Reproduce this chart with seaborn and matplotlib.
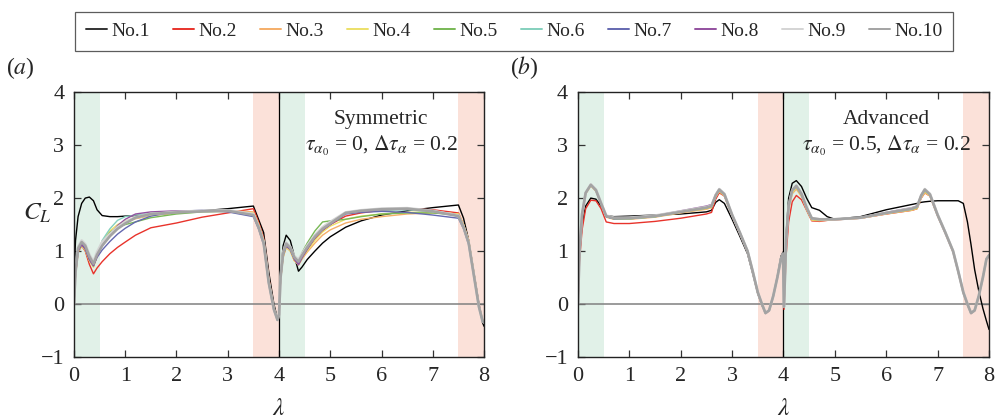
import numpy as np
import pandas as pd
import seaborn as sns
import matplotlib
matplotlib.use("Agg")
import matplotlib.pyplot as plt

# ---------------- data ----------------
labels = ["No.1", "No.2", "No.3", "No.4", "No.5", "No.6", "No.7", "No.8", "No.9", "No.10"]
colors = ["#000000", "#e8332b", "#f5ae68", "#ece068", "#78b855", "#84d0bd",
          "#6468b0", "#93509f", "#d4d4d4", "#a3a3a3"]
legend_colors = ["#333333", "#e8332b", "#f5ae68", "#ece068", "#78b855", "#84d0bd",
                 "#6468b0", "#93509f", "#d4d4d4", "#a3a3a3"]

# panel (a): symmetric
xa = [0, 0.03, 0.08, 0.15, 0.22, 0.3, 0.38, 0.45, 0.55, 0.7,
      0.85, 1.0, 1.2, 1.5, 2.0, 2.5, 3.0, 3.5, 3.6, 3.7,
      3.8, 3.9, 3.97, 4.0, 4.03, 4.08, 4.14, 4.22, 4.3, 4.38,
      4.45, 4.55, 4.7, 4.85, 5.0, 5.3, 5.6, 6.0, 6.5, 7.0,
      7.5, 7.6, 7.7, 7.8, 7.9, 7.97, 8.0]
a1 = [0.5, 1.2, 1.65, 1.9, 2.0, 2.02, 1.95, 1.78, 1.67, 1.65,
      1.65, 1.66, 1.67, 1.69, 1.72, 1.76, 1.80, 1.85, 1.6, 1.35,
      0.6, 0.0, -0.28, -0.25, 0.5, 1.1, 1.3, 1.2, 0.9, 0.62,
      0.7, 0.84, 1.0, 1.15, 1.27, 1.45, 1.57, 1.68, 1.76, 1.82,
      1.87, 1.62, 1.2, 0.6, 0.0, -0.35, -0.42]
a2 = [0.0, 0.55, 0.98, 1.1, 1.0, 0.75, 0.57, 0.68, 0.8, 0.95,
      1.07, 1.17, 1.3, 1.44, 1.53, 1.64, 1.72, 1.8, 1.55, 1.25,
      0.5, -0.1, -0.3, -0.2, 0.45, 0.9, 1.08, 1.02, 0.82, 0.75,
      0.88, 1.03, 1.23, 1.38, 1.5, 1.66, 1.72, 1.77, 1.8, 1.78,
      1.72, 1.5, 1.2, 0.6, 0.0, -0.3, -0.35]
a3 = [0.0, 0.55, 0.98, 1.1, 1.02, 0.82, 0.7, 0.9, 1.15, 1.35,
      1.47, 1.55, 1.61, 1.67, 1.72, 1.75, 1.76, 1.74, 1.52, 1.22,
      0.47, -0.07, -0.3, -0.2, 0.45, 0.88, 1.07, 1.0, 0.82, 0.74,
      0.85, 0.98, 1.15, 1.3, 1.4, 1.53, 1.6, 1.65, 1.7, 1.72,
      1.7, 1.5, 1.2, 0.6, -0.03, -0.3, -0.35]
a4 = [0.0, 0.56, 1.0, 1.1, 1.02, 0.82, 0.7, 0.9, 1.18, 1.38,
      1.5, 1.57, 1.62, 1.68, 1.73, 1.75, 1.75, 1.72, 1.5, 1.2,
      0.45, -0.08, -0.3, -0.2, 0.46, 0.9, 1.08, 1.0, 0.82, 0.74,
      0.86, 1.0, 1.2, 1.36, 1.47, 1.6, 1.66, 1.7, 1.73, 1.74,
      1.7, 1.5, 1.2, 0.6, -0.03, -0.3, -0.35]
a5 = [0.0, 0.57, 1.0, 1.12, 1.04, 0.84, 0.72, 0.92, 1.15, 1.35,
      1.45, 1.5, 1.55, 1.63, 1.7, 1.74, 1.75, 1.7, 1.48, 1.18,
      0.43, -0.1, -0.3, -0.2, 0.47, 0.92, 1.1, 1.03, 0.86, 0.8,
      0.97, 1.15, 1.38, 1.55, 1.57, 1.6, 1.65, 1.7, 1.72, 1.72,
      1.68, 1.48, 1.18, 0.57, -0.04, -0.31, -0.35]
a6 = [0.0, 0.58, 1.02, 1.13, 1.05, 0.85, 0.72, 0.92, 1.2, 1.42,
      1.58, 1.65, 1.68, 1.71, 1.74, 1.76, 1.75, 1.7, 1.47, 1.17,
      0.42, -0.1, -0.3, -0.2, 0.48, 0.93, 1.12, 1.04, 0.86, 0.78,
      0.92, 1.1, 1.3, 1.45, 1.55, 1.72, 1.75, 1.77, 1.78, 1.74,
      1.68, 1.47, 1.17, 0.56, -0.05, -0.32, -0.35]
a7 = [0.0, 0.58, 1.02, 1.13, 1.05, 0.85, 0.73, 0.88, 1.02, 1.18,
      1.32, 1.43, 1.55, 1.66, 1.75, 1.77, 1.74, 1.65, 1.42, 1.12,
      0.38, -0.12, -0.3, -0.2, 0.48, 0.93, 1.1, 1.03, 0.85, 0.77,
      0.9, 1.05, 1.25, 1.4, 1.5, 1.7, 1.73, 1.75, 1.73, 1.68,
      1.62, 1.42, 1.12, 0.53, -0.06, -0.33, -0.35]
a8 = [0.0, 0.57, 1.0, 1.12, 1.04, 0.84, 0.72, 0.9, 1.1, 1.3,
      1.48, 1.6, 1.7, 1.74, 1.76, 1.76, 1.75, 1.69, 1.46, 1.16,
      0.41, -0.1, -0.3, -0.2, 0.48, 0.92, 1.1, 1.03, 0.84, 0.74,
      0.87, 1.03, 1.25, 1.4, 1.5, 1.72, 1.75, 1.78, 1.8, 1.76,
      1.68, 1.47, 1.17, 0.56, -0.05, -0.32, -0.35]
a9 = [0.0, 0.62, 1.08, 1.2, 1.13, 0.93, 0.8, 0.98, 1.17, 1.32,
      1.45, 1.55, 1.64, 1.7, 1.74, 1.76, 1.77, 1.7, 1.47, 1.17,
      0.42, -0.1, -0.3, -0.2, 0.52, 0.98, 1.16, 1.08, 0.9, 0.84,
      0.95, 1.1, 1.3, 1.45, 1.55, 1.73, 1.77, 1.8, 1.81, 1.76,
      1.67, 1.46, 1.16, 0.56, -0.05, -0.32, -0.35]
a10 = [0.0, 0.6, 1.05, 1.17, 1.1, 0.9, 0.76, 0.93, 1.1, 1.28,
       1.42, 1.52, 1.63, 1.7, 1.73, 1.75, 1.76, 1.68, 1.45, 1.15,
       0.4, -0.1, -0.3, -0.2, 0.5, 0.95, 1.14, 1.06, 0.88, 0.8,
       0.92, 1.07, 1.27, 1.42, 1.52, 1.72, 1.76, 1.79, 1.8, 1.75,
       1.66, 1.45, 1.15, 0.55, -0.05, -0.32, -0.35]

# panel (b): advanced
xb = [0, 0.03, 0.08, 0.15, 0.25, 0.35, 0.45, 0.55, 0.7, 1.0,
      1.5, 2.0, 2.5, 2.6, 2.68, 2.75, 2.85, 3.0, 3.15, 3.3,
      3.4, 3.5, 3.58, 3.65, 3.72, 3.8, 3.88, 3.95, 3.99, 4.01,
      4.05, 4.1, 4.17, 4.25, 4.35, 4.45, 4.55, 4.7, 4.85, 5.0,
      5.5, 6.0, 6.5, 6.6, 6.68, 6.75, 6.85, 7.0, 7.15, 7.3,
      7.4, 7.5, 7.58, 7.65, 7.72, 7.8, 7.88, 7.95, 8.0]
b1 = [0.0, 0.9, 1.5, 1.85, 2.0, 1.98, 1.85, 1.67, 1.65, 1.66,
      1.68, 1.7, 1.74, 1.77, 1.92, 1.97, 1.9, 1.6, 1.28, 0.95,
      0.58, 0.2, -0.02, -0.17, -0.12, 0.15, 0.52, 0.9, 0.98, 0.0,
      1.3, 2.0, 2.28, 2.33, 2.22, 2.0, 1.82, 1.77, 1.65, 1.6,
      1.65, 1.78, 1.88, 1.9, 1.92, 1.93, 1.94, 1.95, 1.95, 1.95,
      1.95, 1.9, 1.55, 1.12, 0.65, 0.25, -0.08, -0.32, -0.48]
b2 = [0.0, 0.8, 1.4, 1.8, 1.96, 1.95, 1.8, 1.55, 1.52, 1.52,
      1.56, 1.62, 1.7, 1.73, 1.98, 2.1, 2.04, 1.66, 1.33, 0.98,
      0.6, 0.2, -0.02, -0.18, -0.13, 0.14, 0.5, 0.84, 0.94, -0.1,
      0.9, 1.55, 1.93, 2.05, 1.97, 1.77, 1.57, 1.56, 1.58, 1.59,
      1.62, 1.7, 1.77, 1.8, 2.0, 2.1, 2.04, 1.66, 1.33, 0.98,
      0.6, 0.2, -0.02, -0.18, -0.13, 0.14, 0.5, 0.84, 0.9]
b3 = [0.0, 0.98, 1.68, 2.08, 2.23, 2.13, 1.88, 1.64, 1.6, 1.6,
      1.64, 1.72, 1.79, 1.82, 2.02, 2.12, 2.04, 1.67, 1.34, 0.99,
      0.61, 0.21, -0.01, -0.17, -0.12, 0.15, 0.5, 0.85, 0.95, -0.05,
      1.15, 1.78, 2.08, 2.17, 2.03, 1.78, 1.58, 1.57, 1.58, 1.59,
      1.62, 1.7, 1.77, 1.8, 2.0, 2.1, 2.04, 1.67, 1.34, 0.99,
      0.61, 0.21, -0.01, -0.17, -0.12, 0.15, 0.5, 0.85, 0.92]
b4 = [0.0, 0.99, 1.69, 2.09, 2.24, 2.14, 1.89, 1.65, 1.61, 1.61,
      1.65, 1.73, 1.8, 1.83, 2.03, 2.14, 2.05, 1.67, 1.34, 0.99,
      0.61, 0.21, -0.01, -0.17, -0.12, 0.15, 0.5, 0.85, 0.95, -0.05,
      1.17, 1.8, 2.1, 2.2, 2.05, 1.8, 1.59, 1.58, 1.59, 1.6,
      1.62, 1.71, 1.78, 1.81, 2.02, 2.12, 2.05, 1.67, 1.34, 0.99,
      0.61, 0.21, -0.01, -0.17, -0.12, 0.15, 0.5, 0.85, 0.92]
b5 = [0.0, 1.0, 1.7, 2.1, 2.25, 2.15, 1.9, 1.65, 1.61, 1.61,
      1.65, 1.74, 1.81, 1.84, 2.04, 2.15, 2.06, 1.68, 1.35, 1.0,
      0.62, 0.22, 0.0, -0.17, -0.12, 0.15, 0.5, 0.85, 0.95, -0.05,
      1.19, 1.83, 2.13, 2.21, 2.06, 1.81, 1.6, 1.59, 1.6, 1.6,
      1.63, 1.71, 1.79, 1.82, 2.03, 2.14, 2.06, 1.68, 1.35, 1.0,
      0.62, 0.22, 0.0, -0.17, -0.12, 0.15, 0.5, 0.85, 0.92]
b6 = [0.0, 1.0, 1.7, 2.1, 2.25, 2.15, 1.9, 1.65, 1.61, 1.61,
      1.65, 1.74, 1.82, 1.85, 2.05, 2.16, 2.07, 1.68, 1.35, 1.0,
      0.62, 0.22, 0.0, -0.17, -0.12, 0.15, 0.5, 0.85, 0.95, -0.05,
      1.2, 1.84, 2.14, 2.22, 2.07, 1.82, 1.61, 1.6, 1.6, 1.6,
      1.63, 1.72, 1.8, 1.83, 2.04, 2.15, 2.07, 1.68, 1.35, 1.0,
      0.62, 0.22, 0.0, -0.17, -0.12, 0.15, 0.5, 0.85, 0.92]
b7 = [0.0, 1.0, 1.7, 2.1, 2.25, 2.15, 1.9, 1.65, 1.61, 1.62,
      1.66, 1.75, 1.83, 1.86, 2.06, 2.17, 2.08, 1.69, 1.35, 1.0,
      0.62, 0.22, 0.0, -0.17, -0.12, 0.15, 0.5, 0.85, 0.95, -0.05,
      1.2, 1.85, 2.15, 2.23, 2.08, 1.82, 1.61, 1.6, 1.6, 1.6,
      1.63, 1.72, 1.81, 1.84, 2.05, 2.16, 2.08, 1.69, 1.35, 1.0,
      0.62, 0.22, 0.0, -0.17, -0.12, 0.15, 0.5, 0.85, 0.92]
b8 = [0.0, 1.0, 1.7, 2.1, 2.25, 2.15, 1.9, 1.66, 1.62, 1.62,
      1.67, 1.76, 1.85, 1.88, 2.07, 2.17, 2.08, 1.69, 1.35, 1.0,
      0.62, 0.22, 0.0, -0.17, -0.12, 0.15, 0.5, 0.85, 0.95, -0.05,
      1.2, 1.85, 2.15, 2.23, 2.08, 1.82, 1.62, 1.6, 1.6, 1.6,
      1.63, 1.73, 1.82, 1.85, 2.06, 2.17, 2.08, 1.69, 1.35, 1.0,
      0.62, 0.22, 0.0, -0.17, -0.12, 0.15, 0.5, 0.85, 0.92]
b9 = [0.0, 1.0, 1.7, 2.1, 2.26, 2.16, 1.91, 1.67, 1.63, 1.63,
      1.67, 1.75, 1.83, 1.86, 2.06, 2.17, 2.08, 1.69, 1.35, 1.0,
      0.62, 0.22, 0.0, -0.17, -0.12, 0.15, 0.5, 0.85, 0.95, -0.05,
      1.2, 1.85, 2.15, 2.24, 2.09, 1.83, 1.62, 1.6, 1.6, 1.6,
      1.63, 1.72, 1.81, 1.84, 2.05, 2.17, 2.08, 1.69, 1.35, 1.0,
      0.62, 0.22, 0.0, -0.17, -0.12, 0.15, 0.5, 0.85, 0.92]
b10 = [0.0, 1.0, 1.7, 2.1, 2.25, 2.15, 1.9, 1.66, 1.62, 1.62,
       1.66, 1.74, 1.82, 1.85, 2.05, 2.16, 2.07, 1.68, 1.35, 1.0,
       0.62, 0.22, 0.0, -0.17, -0.12, 0.15, 0.5, 0.85, 0.95, -0.05,
       1.2, 1.85, 2.15, 2.23, 2.08, 1.82, 1.62, 1.6, 1.6, 1.6,
       1.63, 1.72, 1.8, 1.84, 2.05, 2.16, 2.07, 1.68, 1.35, 1.0,
       0.62, 0.22, 0.0, -0.17, -0.12, 0.15, 0.5, 0.85, 0.92]

series_a = [a1, a2, a3, a4, a5, a6, a7, a8, a9, a10]
series_b = [b1, b2, b3, b4, b5, b6, b7, b8, b9, b10]

xticks = [0, 1, 2, 3, 4, 5, 6, 7, 8]
yticks = [-1, 0, 1, 2, 3, 4]

# ---------------- style ----------------
sns.set_theme(style="ticks")
plt.rcParams["font.family"] = ["Liberation Serif", "DejaVu Serif"]
plt.rcParams["mathtext.fontset"] = "stix"
plt.rcParams["axes.unicode_minus"] = True

fig = plt.figure(figsize=(9.97, 4.19), dpi=100)
ax_a = fig.add_axes([0.0742, 0.148, 0.4113, 0.632])
ax_b = fig.add_axes([0.5797, 0.148, 0.4123, 0.632])

green = "#e1f1e8"
pink = "#fbe1d9"
widths = [1.0, 1.0, 1.0, 1.0, 1.0, 1.0, 1.0, 1.0, 1.9, 1.9]


def draw(ax, x, series):
    for span, col in [((0, 0.5), green), ((3.5, 4.0), pink), ((4.0, 4.5), green), ((7.5, 8.0), pink)]:
        ax.axvspan(span[0], span[1], color=col, lw=0, zorder=0)
    ax.axhline(0, color="#808080", lw=1.1, zorder=1)
    ax.axvline(4, color="black", lw=0.9, zorder=1)
    for ys, lab, col, lw in zip(series, labels, colors, widths):
        df = pd.DataFrame({"x": x, "y": ys})
        sns.lineplot(data=df, x="x", y="y", ax=ax, color=col, lw=lw,
                     estimator=None, sort=False, legend=False, zorder=2)
    ax.set_xlim(0, 8)
    ax.set_ylim(-1, 4)
    ax.set_xticks(xticks)
    ax.set_yticks(yticks)
    ax.tick_params(direction="in", top=True, right=True, length=5, width=0.9,
                   labelsize=16, color="#333333")
    ax.tick_params(axis="x", pad=7)
    ax.tick_params(axis="y", pad=7)
    for s in ax.spines.values():
        s.set_color("#222222")
        s.set_linewidth(1.0)
    ax.set_xlabel(r"$\lambda$", fontsize=18)
    ax.xaxis.set_label_coords(0.5, -0.155)
    ax.set_ylabel("")


draw(ax_a, xa, series_a)
draw(ax_b, xb, series_b)

ax_a.set_ylabel(r"$C_L$", fontsize=18, rotation=0)
ax_a.yaxis.set_label_coords(-0.09, 0.5)

ax_a.text(5.99, 3.49, "Symmetric", ha="center", va="center", fontsize=15.5)
ax_a.text(6.0, 2.98, r"$\tau_{\alpha_0}$ = 0, $\Delta\tau_\alpha$ = 0.2",
          ha="center", va="center", fontsize=15.5)
ax_b.text(6.0, 3.49, "Advanced", ha="center", va="center", fontsize=15.5)
ax_b.text(6.0, 2.98, r"$\tau_{\alpha_0}$ = 0.5, $\Delta\tau_\alpha$ = 0.2",
          ha="center", va="center", fontsize=15.5)

fig.text(0.006, 0.838, r"($a$)", fontsize=17, va="center", ha="left")
fig.text(0.512, 0.838, r"($b$)", fontsize=17, va="center", ha="left")

handles = [plt.Line2D([], [], color=c, lw=1.4) for c in legend_colors]
leg = fig.legend(handles, labels, loc="upper center", bbox_to_anchor=(0.5156, 0.995),
                 ncol=10, frameon=True, fancybox=False, fontsize=14,
                 handlelength=1.1, handletextpad=0.2, columnspacing=1.2,
                 borderpad=0.55)
leg.get_frame().set_edgecolor("#333333")
leg.get_frame().set_linewidth(0.9)

fig.savefig("out.png", dpi=100)
